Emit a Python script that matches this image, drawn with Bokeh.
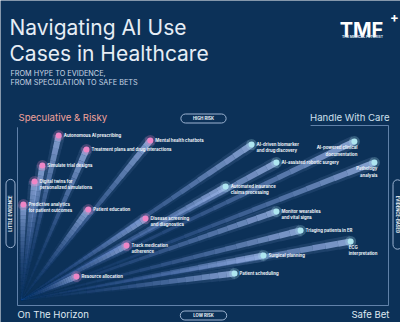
import numpy as np
from bokeh.plotting import figure
from bokeh.models import Range1d, Label, ColumnDataSource
from bokeh.core.properties import value
from bokeh.embed import file_html
from bokeh.resources import INLINE

# ---------------- data ----------------
use_cases = [
    "Autonomous AI prescribing",
    "Mental health chatbots",
    "Treatment plans and drug interactions",
    "Simulate trial designs",
    "Digital twins for\npersonalized simulations",
    "Predictive analytics\nfor patient outcomes",
    "Patient education",
    "Disease screening\nand diagnostics",
    "Track medication\nadherence",
    "Resource allocation",
    "AI-driven biomarker\nand drug discovery",
    "AI-powered clinical\ndocumentation",
    "AI-assisted robotic surgery",
    "Pathology\nanalysis",
    "Automated insurance\nclaims processing",
    "Monitor wearables\nand vital signs",
    "Triaging patients in ER",
    "ECG\ninterpretation",
    "Surgical planning",
    "Patient scheduling",
]
evidence = [1.11, 3.58, 1.86, 0.67, 0.46, 0.16, 1.91, 3.45, 2.94, 1.59,
            6.31, 9.08, 6.98, 9.62, 5.61, 6.98, 7.63, 8.98, 6.63, 5.85]
risk = [9.44, 9.17, 8.67, 7.78, 6.89, 5.61, 5.33, 4.83, 3.33, 1.61,
        8.94, 9.11, 7.94, 7.94, 6.61, 5.22, 4.17, 3.56, 2.78, 1.78]
group = ["speculative"] * 10 + ["established"] * 10

# ---------------- style ----------------
BG = "#0c3158"
PINK = "#ef86c6"
CYAN = "#aee6f0"
LINE = "#7f9ec6"
FONT = "Inter"

W, H = 400, 322
p = figure(width=W, height=H, x_range=Range1d(-0.458, 10.323), y_range=Range1d(-0.944, 16.944),
           output_backend="svg", toolbar_location=None, min_border=0,
           x_axis_type=None, y_axis_type=None)
p.grid.visible = False
p.outline_line_color = None
p.background_fill_color = BG
p.border_fill_color = BG

# frame lines
p.segment(x0=[0, 0, 7.9, 10], y0=[0, 0, 10, 10], x1=[0, 10, 10, 10], y1=[9.9, 0, 10, 0],
          line_color=LINE, line_width=1, line_alpha=0.75)

# ---------------- rays ----------------
ox, oy = 0.1, 0.3
N = 26
c0 = np.array([0x2c, 0x5a, 0xb4])
c1 = np.array([0xa8, 0xc0, 0xf2])
rx0, ry0, rx1, ry1, rw, ra, rc, gw, ga = [], [], [], [], [], [], [], [], []
for ex, rk in zip(evidence, risk):
    for k in range(N):
        t0, t1 = k / N, (k + 1) / N
        tm = (t0 + t1) / 2
        rx0.append(ox + t0 * (ex - ox)); ry0.append(oy + t0 * (rk - oy))
        rx1.append(ox + t1 * (ex - ox)); ry1.append(oy + t1 * (rk - oy))
        rw.append(0.7 + 5.6 * tm)
        ra.append(0.05 + 0.7 * tm ** 1.5)
        gw.append(1.5 + 11 * tm)
        ga.append(0.02 + 0.12 * tm ** 1.5)
        c = (c0 + (c1 - c0) * tm).astype(int)
        rc.append("#%02x%02x%02x" % tuple(c))
ray_src = ColumnDataSource(dict(x0=rx0, y0=ry0, x1=rx1, y1=ry1, w=rw, a=ra, c=rc, gw=gw, ga=ga))
p.segment("x0", "y0", "x1", "y1", source=ray_src, line_width="gw", line_alpha="ga",
          line_color="c", line_cap="butt")
p.segment("x0", "y0", "x1", "y1", source=ray_src, line_width="w", line_alpha="a",
          line_color="c", line_cap="butt")

# ---------------- points ----------------
colors = [PINK if g == "speculative" else CYAN for g in group]
src = ColumnDataSource(dict(x=evidence, y=risk, c=colors, name=use_cases))
p.scatter("x", "y", source=src, size=11, fill_color="c", fill_alpha=0.25, line_color=None)
p.scatter("x", "y", source=src, size=6, fill_color="c", line_color=None)

# ---------------- labels ----------------
placement = {
    "AI-powered clinical\ndocumentation": "below_right",
    "Pathology\nanalysis": "below_right",
    "ECG\ninterpretation": "below_left",
}
groups = {"right": [], "below_right": [], "below_left": []}
for i, n in enumerate(use_cases):
    groups[placement.get(n, "right")].append(i)
settings = {
    "right": dict(x_offset=5, y_offset=-2.6, text_align="left"),
    "below_right": dict(x_offset=3, y_offset=3.5, text_align="right"),
    "below_left": dict(x_offset=-2, y_offset=3.5, text_align="left"),
}
for key, idx in groups.items():
    s = ColumnDataSource(dict(x=[evidence[i] for i in idx], y=[risk[i] for i in idx],
                              t=[use_cases[i] for i in idx]))
    p.text("x", "y", text="t", source=s, text_font=value(FONT), text_font_size="4.3px",
           text_font_style="bold", text_color="#eef3f8", text_baseline="top",
           text_line_height=1.3, **settings[key])

# ---------------- annotations ----------------
def lab(text, x, y, size, color, style="normal", align="left", baseline="alphabetic", **kw):
    p.add_layout(Label(x=x, y=H - y, x_units="screen", y_units="screen", text=text,
                       text_font=FONT, text_font_size=size, text_color=color,
                       text_font_style=style, text_align=align, text_baseline=baseline, **kw))

lab("Navigating AI Use", 9, 27, "21px", "#e6edf5")
lab("Cases in Healthcare", 9, 53, "21px", "#e6edf5")
lab("FROM HYPE TO EVIDENCE,", 10, 73, "7.3px", "#c9d6e5")
lab("FROM SPECULATION TO SAFE BETS", 10, 82, "7.3px", "#c9d6e5")

# logo
lab("TMF", 361, 29, "20px", "#ffffff", style="bold", align="center")
lab("+", 394, 16, "13px", "#ffffff", style="bold", align="center")
lab("THE MEDICAL FUTURIST", 362, 36, "3.4px", "#dfe8f2", style="bold", align="center")

lab("Speculative & Risky", 18, 117, "9.6px", "#f2a39b", baseline="middle")
lab("Handle With Care", 389, 117, "9.6px", "#cfe0ee", align="right", baseline="middle")
lab("On The Horizon", 17, 314, "9.6px", "#dfe8f2", baseline="middle")
lab("Safe Bet", 389, 314, "9.6px", "#dfe8f2", align="right", baseline="middle")

pill = dict(background_fill_color=BG, border_line_color="#9db4d2", border_line_width=1,
            border_radius=5)
lab("HIGH RISK", 203, 118, "4.2px", "#eef3f8", style="bold", align="center", baseline="middle",
    padding=(12, 2), **pill)
lab("LOW RISK", 203, 315, "4.2px", "#eef3f8", style="bold", align="center", baseline="middle",
    padding=(13, 2), **pill)
lab("LITTLE EVIDENCE", 10, 213, "4.2px", "#eef3f8", style="bold", align="center", baseline="middle",
    angle=np.pi / 2, padding=(16, 2), **pill)
lab("EVIDENCE-BASED", 397, 214, "4.2px", "#eef3f8", style="bold", align="center", baseline="middle",
    angle=-np.pi / 2, padding=(16, 2), **pill)

open("out.html", "w").write(file_html(p, INLINE))
